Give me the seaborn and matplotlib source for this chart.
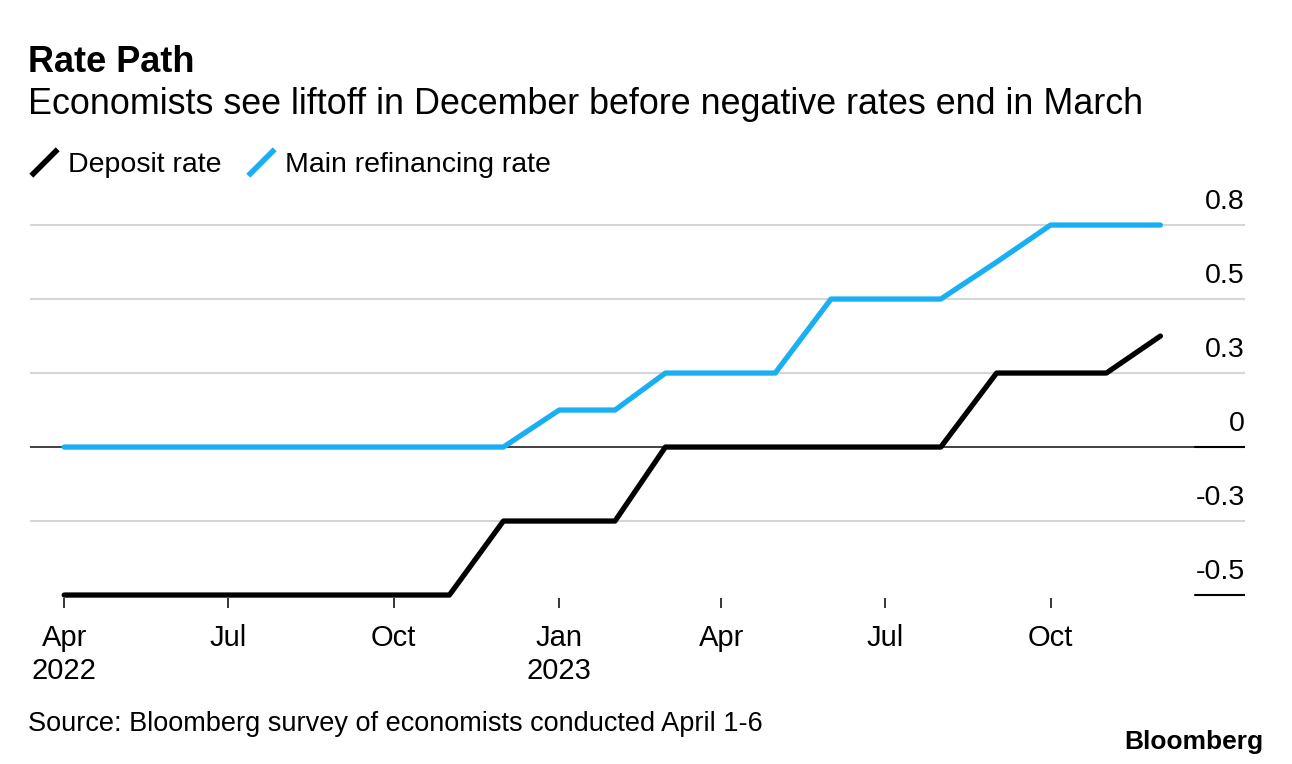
import matplotlib
matplotlib.use("Agg")
import matplotlib.pyplot as plt
import matplotlib.transforms as mtransforms
from matplotlib.lines import Line2D
from matplotlib.path import Path
import pandas as pd
import seaborn as sns

# monthly survey medians, Apr 2022 - Dec 2023
months = pd.date_range("2022-04-01", "2023-12-01", freq="MS")
deposit_rate = [-0.5, -0.5, -0.5, -0.5, -0.5, -0.5, -0.5, -0.5, -0.25,
                -0.25, -0.25, 0.0, 0.0, 0.0, 0.0, 0.0, 0.0, 0.25, 0.25, 0.25, 0.375]
refi_rate = [0.0, 0.0, 0.0, 0.0, 0.0, 0.0, 0.0, 0.0, 0.0,
             0.125, 0.125, 0.25, 0.25, 0.25, 0.5, 0.5, 0.5, 0.625, 0.75, 0.75, 0.75]
series_names = ["Deposit rate", "Main refinancing rate"]
series_colors = ["#000000", "#1aaef2"]

y_ticks = [-0.5, -0.25, 0.0, 0.25, 0.5, 0.75]
y_labels = ["-0.5", "-0.3", "0", "0.3", "0.5", "0.8"]
x_ticks = pd.date_range("2022-04-01", "2023-10-01", freq="QS-JAN")
x_labels = ["Apr\n2022", "Jul", "Oct", "Jan\n2023", "Apr", "Jul", "Oct"]

df = pd.DataFrame({
    "date": list(months) * 2,
    "rate": deposit_rate + refi_rate,
    "series": [series_names[0]] * len(months) + [series_names[1]] * len(months),
})

sns.set_theme(style="white")
plt.rcParams["font.family"] = ["Liberation Sans", "DejaVu Sans"]
plt.rcParams["text.color"] = "black"
plt.rcParams["xtick.color"] = "black"
plt.rcParams["xtick.labelcolor"] = "black"

fig = plt.figure(figsize=(12.92, 7.64), dpi=100)
ax = fig.add_axes([30 / 1292, (764 - 598) / 764, 1215 / 1292, (0.51 + 0.85) * 296 / 764])

palette = dict(zip(series_names, series_colors))
sns.lineplot(data=df, x="date", y="rate", hue="series", palette=palette,
             linewidth=3.8, legend=False, ax=ax, solid_capstyle="round")

ax.set_xlim(pd.Timestamp("2022-03-13"), pd.Timestamp("2024-01-17"))
ax.set_ylim(-0.51, 0.85)
for s in ax.spines.values():
    s.set_visible(False)

# gridlines
for v in y_ticks:
    if v == 0:
        ax.axhline(v, color="#333333", lw=1.3, zorder=1)
        ax.axhline(v, xmin=0.959, xmax=1, color="black", lw=1.5, zorder=1)
    elif v == -0.5:
        ax.axhline(v, xmin=0.959, xmax=1, color="black", lw=1.5, zorder=1)
    else:
        ax.axhline(v, color="#d6d6d6", lw=1.5, zorder=0)

ax.set_yticks([])
ytrans = mtransforms.blended_transform_factory(ax.transAxes, ax.transData)
for v, lab in zip(y_ticks, y_labels):
    ax.annotate(lab, xy=(1.0, v), xycoords=ytrans, xytext=(0, 7),
                textcoords="offset points", ha="right", va="bottom", fontsize=20.5)

ax.set_xticks(x_ticks)
ax.set_xticklabels(x_labels, fontsize=21, linespacing=1.2)
ax.tick_params(axis="x", bottom=True, direction="out", length=7, width=1.1,
               color="black", pad=12)
ax.set_xlabel("")
ax.set_ylabel("")

# title block
fig.text(28 / 1292, 1 - 63 / 764, "Rate Path", fontsize=26, fontweight="bold", va="center")
fig.text(28 / 1292, 1 - 105 / 764,
         "Economists see liftoff in December before negative rates end in March",
         fontsize=25.8, va="center")

slash = Path([(-1, -1), (1, 1)], [Path.MOVETO, Path.LINETO])
handles = [Line2D([], [], color=c, marker=slash, markersize=19, markeredgewidth=4,
                  linestyle="none") for c in series_colors]
fig.legend(handles, series_names, loc="center left", bbox_to_anchor=(18 / 1292, 1 - 165 / 764),
           ncol=2, frameon=False, fontsize=20.5, handlelength=1.0, handletextpad=0.35,
           columnspacing=0.9, borderaxespad=0)

fig.text(28 / 1292, 1 - 724 / 764,
         "Source: Bloomberg survey of economists conducted April 1-6",
         fontsize=19.5, va="center")
fig.text(1263 / 1292, 1 - 742 / 764, "Bloomberg", fontsize=19, fontweight="heavy",
         ha="right", va="center")

fig.savefig("out.png", dpi=100, facecolor="white")
